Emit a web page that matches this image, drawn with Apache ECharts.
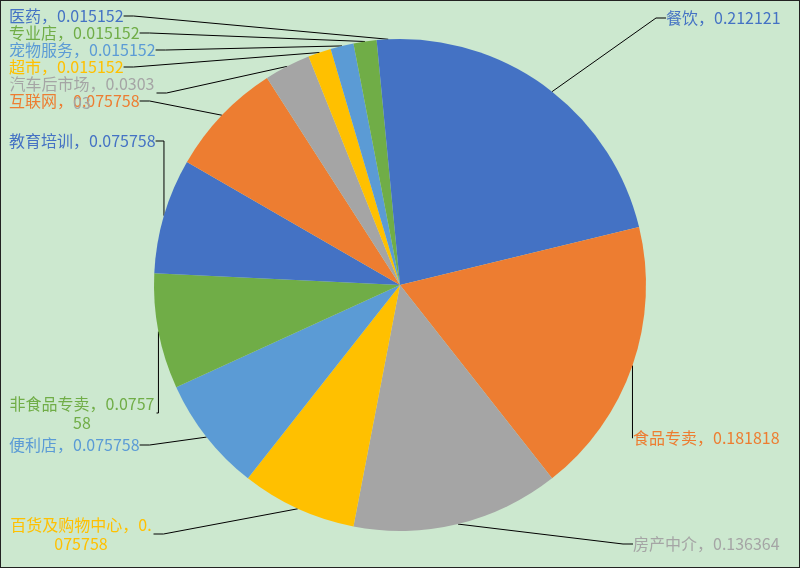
<!DOCTYPE html>
<html>
<head>
<meta charset="utf-8">
<script src="https://cdn.jsdelivr.net/npm/echarts@6/dist/echarts.min.js"></script>
<style>
html,body{margin:0;padding:0;background:#fff;}
#chart{width:800px;height:568px;box-sizing:border-box;border:1px solid #222;background:#CCE8CF;}
</style>
</head>
<body>
<div id="chart"></div>
<script>
const categories = ['餐饮','食品专卖','房产中介','百货及购物中心','便利店','非食品专卖','教育培训','互联网','汽车后市场','超市','宠物服务','专业店','医药'];
const values = [0.212121,0.181818,0.136364,0.075758,0.075758,0.075758,0.075758,0.075758,0.030303,0.015152,0.015152,0.015152,0.015152];
const colors = ['#4472C4','#ED7D31','#A5A5A5','#FFC000','#5B9BD5','#70AD47','#4472C4','#ED7D31','#A5A5A5','#FFC000','#5B9BD5','#70AD47','#4472C4'];

// label placement: [x, y, align, wrapWidth]
const labelPlace = [
  [665, 17, 'left', 0],
  [632, 437, 'left', 0],
  [632, 543, 'left', 0],
  [80, 533, 'center', 145],
  [8, 444, 'left', 0],
  [81, 412, 'center', 149],
  [8, 140, 'left', 0],
  [8, 100, 'left', 0],
  [81, 92, 'center', 149],
  [8, 66, 'left', 0],
  [8, 49, 'left', 0],
  [8, 32, 'left', 0],
  [8, 15, 'left', 0]
];

const data = categories.map((n, i) => {
  const p = labelPlace[i];
  const item = {name: n, value: values[i], itemStyle: {color: colors[i]}, label: {color: colors[i]}};
  if (p[3]) { item.label.width = p[3]; item.label.overflow = 'breakAll'; item.label.align = 'center'; }
  return item;
});

const chart = echarts.init(document.getElementById('chart'), null, {renderer: 'canvas'});
chart.setOption({
  animation: false,
  backgroundColor: '#CCE8CF',
  series: [{
    type: 'pie',
    center: [399, 284],
    radius: 246,
    startAngle: 90,
    clockwise: true,
    avoidLabelOverlap: false,
    data: data,
    label: {
      show: true,
      position: 'outside',
      fontFamily: '"Noto Sans CJK SC", sans-serif',
      fontSize: 16,
      lineHeight: 19,
      formatter: p => p.name + '，' + p.value
    },
    labelLine: {show: true, length: 10, length2: 10, lineStyle: {color: '#000', width: 1}},
    labelLayout: function (params) {
      const p = labelPlace[params.dataIndex];
      return {x: p[0], y: p[1], align: p[2], verticalAlign: 'middle', moveOverlap: null};
    },
    emphasis: {disabled: true}
  }]
});
</script>
</body>
</html>
